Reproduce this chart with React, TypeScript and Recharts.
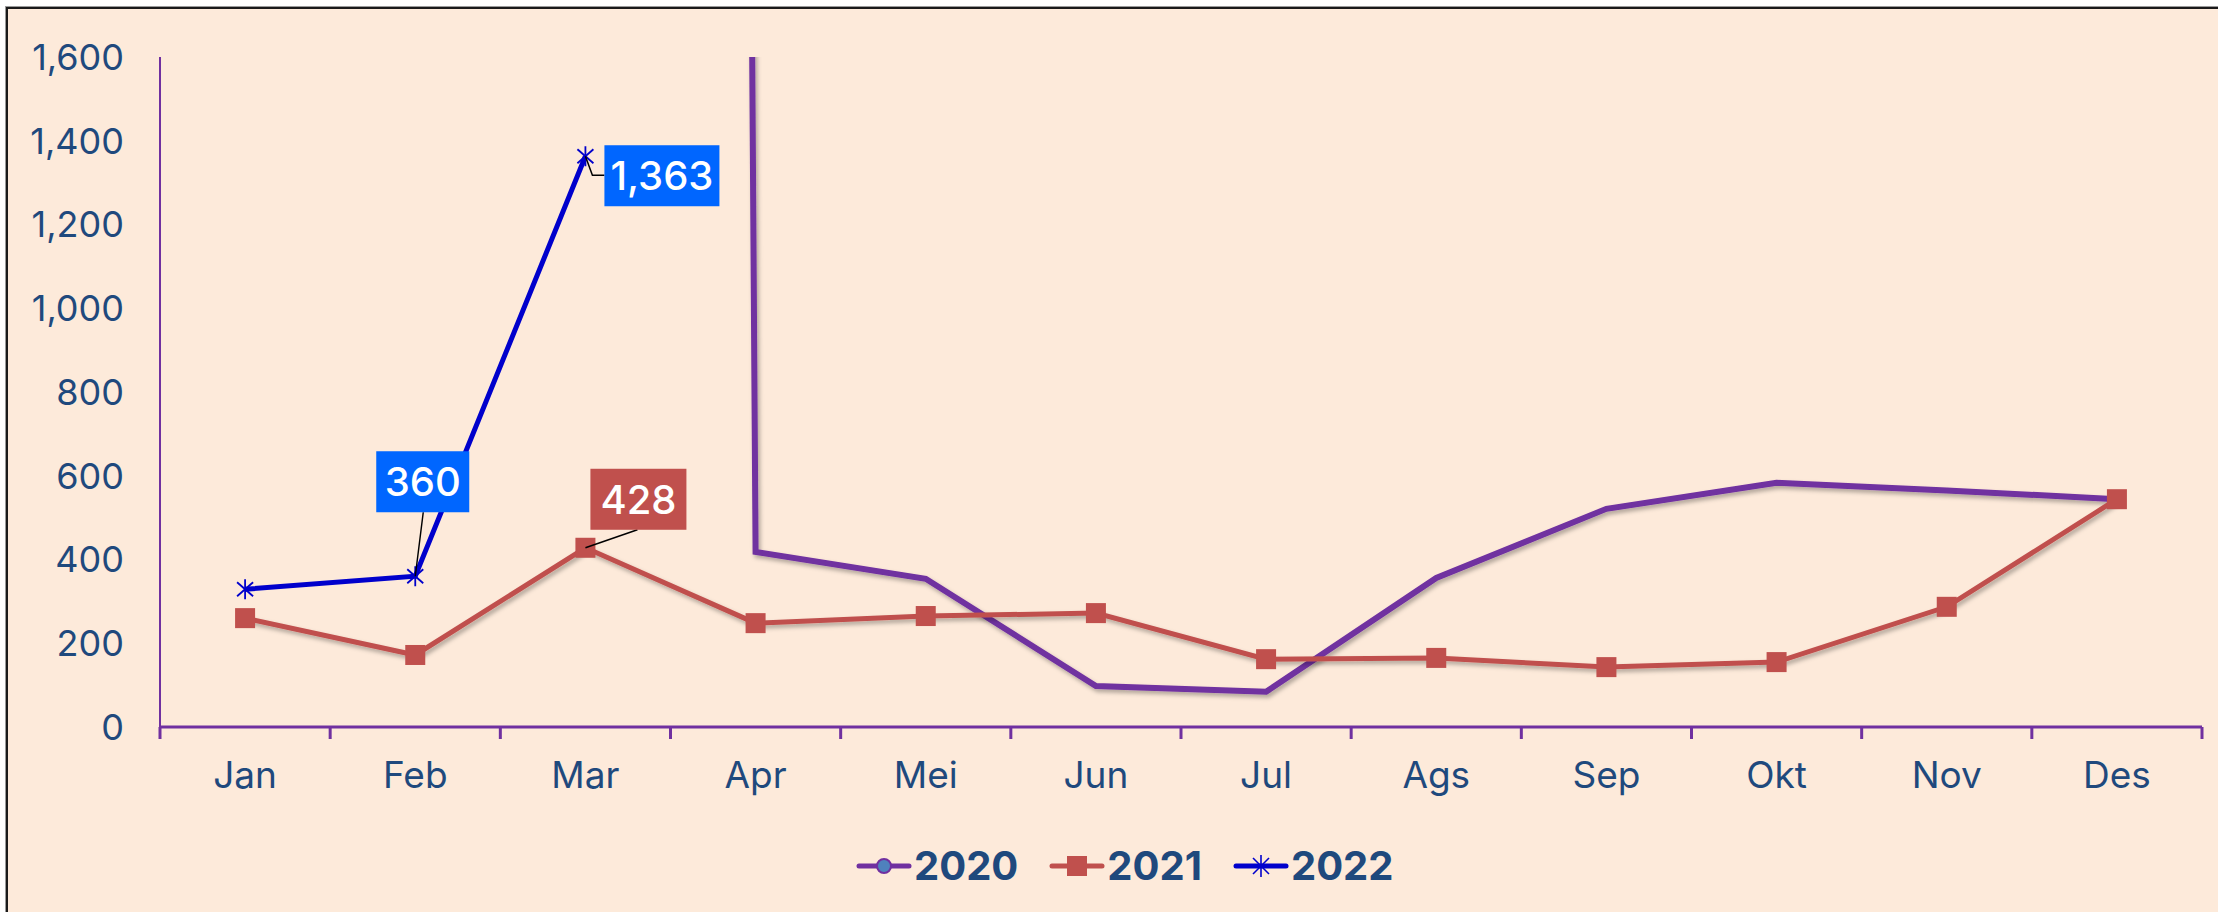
import React from "react";
import { LineChart, Line, XAxis, YAxis, Legend, LabelList } from "recharts";

const months = ["Jan", "Feb", "Mar", "Apr", "Mei", "Jun", "Jul", "Ags", "Sep", "Okt", "Nov", "Des"];
const s2020: (number | null)[] = [null, null, 60000, 418, 354, 98, 84, 356, 521, 583, 565, 544];
const s2021: (number | null)[] = [260, 172, 428, 248, 265, 272, 162, 165, 143, 155, 287, 544];
const s2022: (number | null)[] = [329, 360, 1363, null, null, null, null, null, null, null, null, null];
const yTicks = [0, 200, 400, 600, 800, 1000, 1200, 1400, 1600];
const xTicks = [-0.5, 0, 0.5, 1, 1.5, 2, 2.5, 3, 3.5, 4, 4.5, 5, 5.5, 6, 6.5, 7, 7.5, 8, 8.5, 9, 9.5, 10, 10.5, 11, 11.5];

const data = months.map((m, i) => ({ idx: i, month: m, y2020: s2020[i], y2021: s2021[i], y2022: s2022[i] }));

const FONT = "Inter, 'Noto Sans', sans-serif";
const TXT = "#1F497D";
const AXIS = "#7030A0";
const C2020 = "#7030A0";
const C2021 = "#C0504D";
const C2022 = "#0000CC";
const BOXBLUE = "#0066FF";

type LabelStyle = { dx: number; dy: number; w: number; h: number; fill: string; leader: number[][] };
const labels2021: Record<number, LabelStyle> = {
  2: { dx: 5, dy: -79, w: 96, h: 61, fill: C2021, leader: [[0, 0], [52, -18]] },
};
const labels2022: Record<number, LabelStyle> = {
  1: { dx: -39, dy: -125, w: 93, h: 61, fill: BOXBLUE, leader: [[0, 0], [8, -64]] },
  2: { dx: 19, dy: -11, w: 115, h: 61, fill: BOXBLUE, leader: [[0, 0], [7, 19], [19, 19]] },
};

const makeLabel = (cfg: Record<number, LabelStyle>) => (p: any) => {
  const { x, y, value, index } = p;
  const s = cfg[index];
  if (!s || value == null || x == null || y == null) return null;
  const pts = s.leader.map(([a, b]) => `${x + a},${y + b}`).join(" ");
  return (
    <g>
      <polyline points={pts} fill="none" stroke="#000" strokeWidth={1.5} />
      <rect x={x + s.dx} y={y + s.dy} width={s.w} height={s.h} fill={s.fill} />
      <text
        x={x + s.dx + s.w / 2}
        y={y + s.dy + s.h / 2}
        dy="0.36em"
        textAnchor="middle"
        fill="#fff"
        fontSize={40}
        fontWeight={500}
        fontFamily={FONT}
      >
        {Number(value).toLocaleString("en-US")}
      </text>
    </g>
  );
};

const XTick = (props: any) => {
  const { x, y, payload } = props;
  const v = payload.value;
  if (Number.isInteger(v)) {
    return (
      <text x={x} y={y + 61} textAnchor="middle" fill={TXT} fontSize={37} fontFamily={FONT}>
        {months[v]}
      </text>
    );
  }
  return <line x1={x} x2={x} y1={y} y2={y + 12} stroke={AXIS} strokeWidth={3} />;
};

const SquareDot = (props: any) => {
  const { cx, cy } = props;
  if (cx == null || cy == null) return <g />;
  return <rect x={cx - 10} y={cy - 10} width={20} height={20} fill={C2021} />;
};

const StarDot = (props: any) => {
  const { cx, cy } = props;
  if (cx == null || cy == null) return <g />;
  return (
    <g stroke={C2022} strokeWidth={1.8}>
      <line x1={cx} y1={cy - 10} x2={cx} y2={cy + 10} />
      <line x1={cx - 8} y1={cy - 7} x2={cx + 8} y2={cy + 7} />
      <line x1={cx - 8} y1={cy + 7} x2={cx + 8} y2={cy - 7} />
    </g>
  );
};

const legendItems = [
  { name: "2020", color: C2020, marker: "circle" },
  { name: "2021", color: C2021, marker: "square" },
  { name: "2022", color: C2022, marker: "star" },
];

const LegendContent = () => (
  <div style={{ display: "flex", alignItems: "center", height: 50 }}>
    {legendItems.map((it) => (
      <div key={it.name} style={{ display: "flex", alignItems: "center", marginRight: 31 }}>
        <svg width={56} height={30} style={{ display: "block" }}>
          <line x1={3} y1={15} x2={53} y2={15} stroke={it.color} strokeWidth={5} strokeLinecap="round" />
          {it.marker === "circle" && <circle cx={28} cy={15} r={7} fill="#4F81BD" stroke={C2020} strokeWidth={2} />}
          {it.marker === "square" && <rect x={18} y={5} width={20} height={20} fill={C2021} />}
          {it.marker === "star" && (
            <g stroke={C2022} strokeWidth={1.6}>
              <line x1={28} y1={4} x2={28} y2={26} />
              <line x1={20} y1={7} x2={36} y2={23} />
              <line x1={20} y1={23} x2={36} y2={7} />
            </g>
          )}
        </svg>
        <span
          style={{
            fontFamily: FONT,
            fontWeight: 700,
            fontSize: 40,
            color: TXT,
            marginLeft: 2,
            lineHeight: "50px",
          }}
        >
          {it.name}
        </span>
      </div>
    ))}
  </div>
);

export default function App() {
  return (
    <div
      style={{
        position: "absolute",
        left: 0,
        top: 0,
        width: 2218,
        height: 912,
        overflow: "hidden",
        background: "#fff",
      }}
    >
      <div
        style={{
          position: "absolute",
          left: 6,
          top: 7,
          width: 2240,
          height: 930,
          background: "#FDEADA",
          borderTop: "2px solid #1a1a1a",
          borderLeft: "2px solid #1a1a1a",
          boxShadow: "-1px -1px 0 #9a9a9a",
        }}
      />
      <div style={{ position: "absolute", left: 0, top: 0 }}>
        <LineChart width={2218} height={912} data={data} margin={{ top: 57, right: 16, bottom: 75, left: 0 }}>
          <defs>
            <filter id="lshadow" x="-10%" y="-10%" width="120%" height="130%">
              <feDropShadow dx="2" dy="3" stdDeviation="2" floodColor="#000" floodOpacity="0.3" />
            </filter>
          </defs>
          <XAxis
            type="number"
            dataKey="idx"
            domain={[-0.5, 11.5]}
            ticks={xTicks}
            interval={0}
            allowDecimals
            tickLine={false}
            tickSize={0}
            tickMargin={0}
            axisLine={{ stroke: AXIS, strokeWidth: 3 }}
            tick={<XTick />}
            height={60}
          />
          <YAxis
            domain={[0, 1600]}
            ticks={yTicks}
            interval={0}
            allowDataOverflow
            width={160}
            tickLine={false}
            tickSize={0}
            tickMargin={36}
            axisLine={{ stroke: AXIS, strokeWidth: 2 }}
            tick={{ fill: TXT, fontSize: 36, fontFamily: FONT }}
            tickFormatter={(v: number) => v.toLocaleString("en-US")}
          />
          <Legend
            verticalAlign="bottom"
            content={<LegendContent />}
            wrapperStyle={{ position: "absolute", left: 856, top: 841, bottom: "auto", right: "auto", width: "auto" }}
          />
          <Line
            type="linear"
            dataKey="y2020"
            stroke={C2020}
            strokeWidth={6}
            dot={false}
            activeDot={false}
            isAnimationActive={false}
            filter="url(#lshadow)"
          />
          <Line
            type="linear"
            dataKey="y2021"
            stroke={C2021}
            strokeWidth={5}
            dot={<SquareDot />}
            activeDot={false}
            isAnimationActive={false}
            filter="url(#lshadow)"
          >
            <LabelList dataKey="y2021" content={makeLabel(labels2021)} />
          </Line>
          <Line
            type="linear"
            dataKey="y2022"
            stroke={C2022}
            strokeWidth={5}
            dot={<StarDot />}
            activeDot={false}
            isAnimationActive={false}
          >
            <LabelList dataKey="y2022" content={makeLabel(labels2022)} />
          </Line>
        </LineChart>
      </div>
    </div>
  );
}
